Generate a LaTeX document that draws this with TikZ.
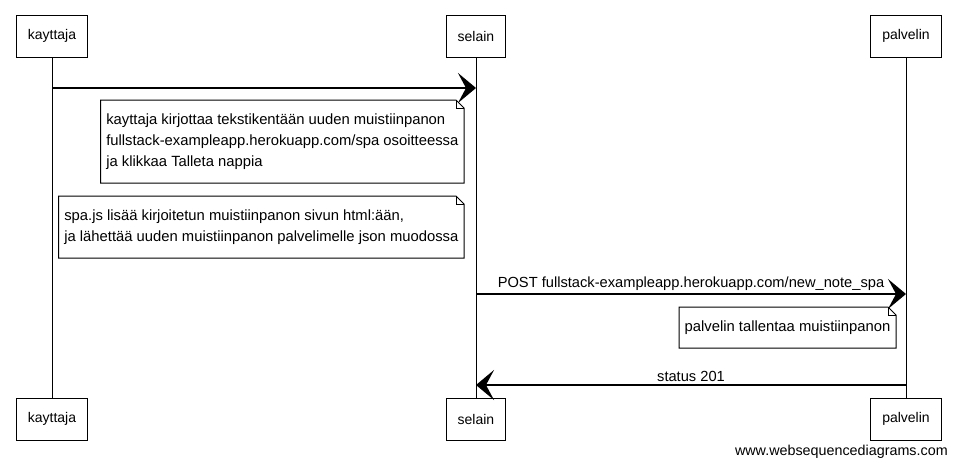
\documentclass[tikz,border=0pt]{standalone}
\usepackage{fontspec}
\setmainfont{Liberation Sans}
\usetikzlibrary{arrows.meta}

% folded corner outline of a note
\newcommand{\dogear}[1]{%
  \draw[notebox] (#1.north west) -- ([xshift=-6pt]#1.north east) -- ([yshift=-6pt]#1.north east) -- (#1.south east) -- (#1.south west) -- cycle;
  \draw[notebox] ([xshift=-6pt]#1.north east) |- ([yshift=-6pt]#1.north east);}

\begin{document}
\begin{tikzpicture}[x=0.75pt,y=-0.75pt]
			\tikzstyle{actor} = [draw, line width=0.75pt, minimum height=31.5pt, inner xsep=8.5pt, font=\fontsize{10.5}{12}\selectfont]
			\tikzstyle{lifeline} = [line width=0.75pt]
			\tikzstyle{note} = [align=left, inner xsep=4pt, inner ysep=10pt, anchor=north east, font=\fontsize{11.1}{15.75}\selectfont]
			\tikzstyle{notebox} = [line width=0.75pt]
			\tikzstyle{footer} = [anchor=east, inner sep=0pt, font=\fontsize{10.75}{12}\selectfont]
			\tikzset{msg/.style = {line width=1.5pt, -{Stealth[length=13.5pt, width=22.5pt, inset=6pt]}}}
			\tikzset{msglabel/.style = {above, inner sep=1.5pt, font=\fontsize{11}{12}\selectfont}}

			\useasboundingbox (0,0) rectangle (957,465);

			% actors
			\node[actor](kayttaja)  at (52,36)  {kayttaja};
			\node[actor](selain)    at (476,36) {selain};
			\node[actor](palvelin)  at (906,36) {palvelin};
			\node[actor](kayttajaB) at (52,419)  {kayttaja};
			\node[actor](selainB)   at (476,419) {selain};
			\node[actor](palvelinB) at (906,419) {palvelin};

			% lifelines
			\draw[lifeline](kayttaja) to (kayttajaB);
			\draw[lifeline](selain)   to (selainB);
			\draw[lifeline](palvelin) to (palvelinB);

			% kayttaja -> selain
			\coordinate (k1) at (52,88);
			\coordinate (s1) at (476,88);
			\draw[msg](k1) to (s1);

			% notes at selain
			\node[note](note1) at (464,100) {kayttaja kirjottaa tekstikentään uuden muistiinpanon\\fullstack-exampleapp.herokuapp.com/spa osoitteessa\\ja klikkaa Talleta nappia};
			\dogear{note1}
			\node[note](note2) at (464,196) {spa.js lisää kirjoitetun muistiinpanon sivun html:ään,\\ja lähettää uuden muistiinpanon palvelimelle json muodossa};
			\dogear{note2}

			% selain -> palvelin
			\coordinate (s2) at (476,294);
			\coordinate (p2) at (906,294);
			\draw[msg](s2) to node[msglabel]{POST fullstack-exampleapp.herokuapp.com/new\_note\_spa} (p2);

			% note at palvelin
			\node[note](note3) at (896,307) {palvelin tallentaa muistiinpanon};
			\dogear{note3}

			% palvelin -> selain
			\coordinate (p3) at (906,385);
			\coordinate (s3) at (476,385);
			\draw[msg](p3) to node[msglabel]{status 201} (s3);

			\node[footer](credit) at (948,452) {www.websequencediagrams.com};
\end{tikzpicture}
\end{document}
